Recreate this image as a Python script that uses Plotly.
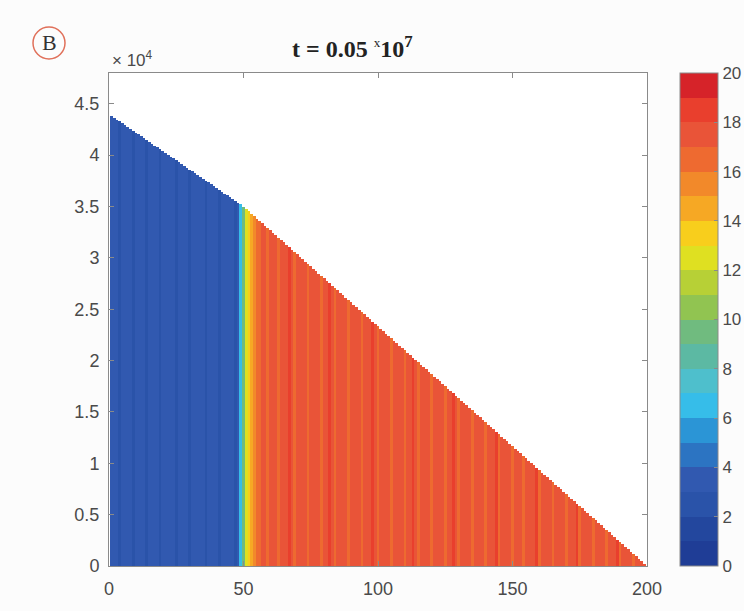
import plotly.graph_objects as go

# ---------------- data ----------------
positions = list(range(1, 201))

heights = [
    43820, 43640, 43460, 43280, 43100, 42920, 42740, 42560, 42380, 42200,
    42020, 41840, 41660, 41480, 41300, 41120, 40940, 40760, 40580, 40400,
    40220, 40040, 39860, 39680, 39500, 39320, 39140, 38960, 38780, 38600,
    38420, 38240, 38060, 37880, 37700, 37520, 37340, 37160, 36980, 36800,
    36620, 36440, 36260, 36080, 35900, 35720, 35540, 35360, 35233, 35000,
    34767, 34533, 34300, 34067, 33833, 33600, 33367, 33133, 32900, 32667,
    32433, 32200, 31967, 31733, 31500, 31267, 31033, 30800, 30567, 30333,
    30100, 29867, 29633, 29400, 29167, 28933, 28700, 28467, 28233, 28000,
    27767, 27533, 27300, 27067, 26833, 26600, 26367, 26133, 25900, 25667,
    25433, 25200, 24967, 24733, 24500, 24267, 24033, 23800, 23567, 23333,
    23100, 22867, 22633, 22400, 22167, 21933, 21700, 21467, 21233, 21000,
    20767, 20533, 20300, 20067, 19833, 19600, 19367, 19133, 18900, 18667,
    18433, 18200, 17967, 17733, 17500, 17267, 17033, 16800, 16567, 16333,
    16100, 15867, 15633, 15400, 15167, 14933, 14700, 14467, 14233, 14000,
    13767, 13533, 13300, 13067, 12833, 12600, 12367, 12133, 11900, 11667,
    11433, 11200, 10967, 10733, 10500, 10267, 10033, 9800, 9567, 9333,
    9100, 8867, 8633, 8400, 8167, 7933, 7700, 7467, 7233, 7000,
    6767, 6533, 6300, 6067, 5833, 5600, 5367, 5133, 4900, 4667,
    4433, 4200, 3967, 3733, 3500, 3267, 3033, 2800, 2567, 2333,
    2100, 1867, 1633, 1400, 1167, 933, 700, 467, 233, 0,
]

trait = [
    3.5, 3.4, 3.6, 2.8, 3.5, 3.3, 3.7, 3.5, 2.9, 3.6, 3.4, 3.5,
    3.3, 2.7, 3.6, 3.5, 3.4, 3.6, 2.9, 3.5, 3.3, 3.7, 3.4, 3.5,
    2.8, 3.6, 3.5, 3.4, 3.3, 2.9, 3.6, 3.5, 3.4, 3.7, 3.5, 2.8,
    3.4, 3.6, 3.5, 3.3, 2.9, 3.6, 3.5, 3.4, 3.6, 3.5, 2.9, 3.4,
    6.5, 9.6, 12.4, 13.5, 14.5, 15.4, 16.3,
    16.6, 17.4, 17.6, 16.8, 17.5, 17.3, 17.7, 16.5, 17.5, 17.6, 17.4, 18.1,
    17.5, 16.7, 17.4, 17.6, 17.5, 17.3, 16.6, 17.5, 17.7, 17.4, 17.5, 16.8,
    17.6, 17.4, 18.2, 17.5, 16.7, 17.5, 17.3, 17.6, 17.4, 16.6, 17.5, 17.7,
    17.4, 17.5, 16.8, 17.6, 17.3, 17.5, 18.1, 17.4, 16.7, 17.5, 17.6, 17.4,
    17.5, 16.6, 17.3, 17.7, 17.5, 17.4, 16.8, 17.6, 17.5, 18.2, 17.4, 16.7,
    17.5, 17.6, 17.3, 17.5, 16.6, 17.4, 17.7, 17.5, 17.6, 16.8, 17.4, 17.5,
    18.1, 17.6, 16.7, 17.5, 17.3, 17.4, 17.6, 16.6, 17.5, 17.7, 17.4, 17.5,
    16.8, 17.6, 17.5, 17.3, 18.2, 16.7, 17.5, 17.4, 17.6, 17.5, 16.6, 17.7,
    17.4, 17.5, 16.8, 17.6, 17.3, 17.5, 17.4, 18.1, 16.7, 17.6, 17.5, 17.4,
    17.5, 16.6, 17.7, 17.4, 17.5, 17.6, 16.8, 17.3, 17.5, 17.6, 18.2, 16.7,
    17.4, 17.5, 17.6, 17.5, 16.6, 17.3, 17.7, 17.5, 17.4, 16.8, 17.6, 17.5,
    17.4, 18.1, 16.7, 17.5, 17.6, 17.3, 17.5, 16.6, 17.4, 17.7, 17.5, 17.6,
    17.5,
]

x_ticks = [0, 50, 100, 150, 200]
y_tick_vals = [0, 5000, 10000, 15000, 20000, 25000, 30000, 35000, 40000, 45000]
y_tick_text = ["0", "0.5", "1", "1.5", "2", "2.5", "3", "3.5", "4", "4.5"]
cbar_ticks = [0, 2, 4, 6, 8, 10, 12, 14, 16, 18, 20]

band_colors = [
    "#1f3d96", "#23479e", "#2a53a9", "#3159b0", "#2c74c2",
    "#2b95d6", "#36bde9", "#4ebfcc", "#5cb9a3", "#70bb7f",
    "#91c451", "#b7d036", "#dfe021", "#f8ce1c", "#f6a824",
    "#f2892a", "#ee6a30", "#e95438", "#e93f2d", "#d62329",
]

# discrete colorscale built from bands
n = len(band_colors)
colorscale = []
for i, c in enumerate(band_colors):
    colorscale.append([i / n, c])
    colorscale.append([(i + 1) / n, c])

W, H = 744, 611
L, R, T, B = 109, 97, 73, 45
plot_w = W - L - R
plot_h = H - T - B


def px_x(px):
    return (px - L) / plot_w


def px_y(py):
    return (H - B - py) / plot_h


fig = go.Figure()
fig.add_trace(go.Bar(
    x=positions,
    y=heights,
    width=1,
    marker=dict(
        color=trait,
        colorscale=colorscale,
        cmin=0,
        cmax=20,
        line=dict(width=0),
        colorbar=dict(
            x=px_x(680),
            xanchor="left",
            xref="paper",
            xpad=0,
            ypad=0,
            y=0.5,
            yanchor="middle",
            len=1,
            lenmode="fraction",
            thickness=38,
            thicknessmode="pixels",
            outlinecolor="#8a8a8a",
            outlinewidth=1,
            tickvals=cbar_ticks,
            ticks="inside",
            ticklen=4,
            tickcolor="#8a8a8a",
            tickfont=dict(family="Liberation Sans, Arial", size=17, color="#4a4a4a"),
        ),
    ),
    showlegend=False,
    hoverinfo="x+y",
))

axis_common = dict(
    showline=True,
    linecolor="#8a8a8a",
    linewidth=1,
    mirror="ticks",
    ticks="inside",
    ticklen=5,
    tickcolor="#8a8a8a",
    showgrid=False,
    zeroline=False,
    tickfont=dict(family="Liberation Sans, Arial", size=18, color="#4a4a4a"),
)

fig.update_xaxes(range=[0, 200], tickvals=x_ticks, ticklabelstandoff=6, **axis_common)
fig.update_yaxes(range=[0, 48000], tickvals=y_tick_vals, ticktext=y_tick_text,
                 ticklabelstandoff=5, **axis_common)

fig.update_layout(
    width=W,
    height=H,
    margin=dict(l=L, r=R, t=T, b=B, autoexpand=False),
    paper_bgcolor="#fcfcfc",
    plot_bgcolor="#ffffff",
    bargap=0,
    annotations=[
        dict(
            text="<b>t = 0.05 </b><sup><span style='font-size:13px'>x</span></sup><b>10<sup>7</sup></b>",
            x=px_x(352), y=px_y(47), xref="paper", yref="paper",
            showarrow=False,
            font=dict(family="Liberation Serif, Times New Roman", size=24, color="#222222"),
            xanchor="center", yanchor="middle",
        ),
        dict(
            text="\u00d7 10<sup>4</sup>",
            x=px_x(110), y=px_y(72), xref="paper", yref="paper",
            xanchor="left", yanchor="bottom",
            showarrow=False,
            font=dict(family="Liberation Sans, Arial", size=17, color="#4a4a4a"),
        ),
        dict(
            text="B",
            x=px_x(49), y=px_y(43), xref="paper", yref="paper",
            xanchor="center", yanchor="middle",
            showarrow=False,
            font=dict(family="Liberation Serif, Times New Roman", size=22, color="#333333"),
        ),
    ],
)

fig.add_shape(
    type="circle", xref="paper", yref="paper",
    x0=px_x(33), x1=px_x(65),
    y0=px_y(59), y1=px_y(27),
    line=dict(color="#e0705a", width=1.5),
)

fig.write_html("out.html")
